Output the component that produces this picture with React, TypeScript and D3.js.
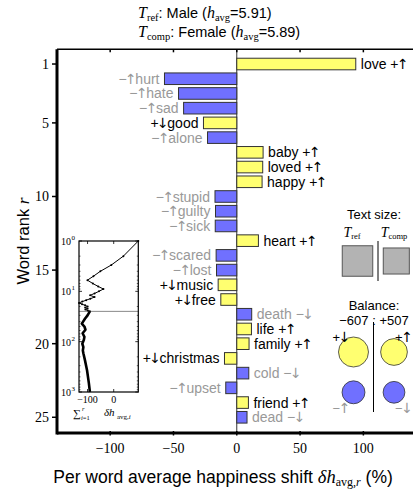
import React from "react";
import * as d3 from "d3";

const words = ["love","hurt","hate","sad","good","alone","baby","loved","happy","stupid","guilty","sick","heart","scared","lost","music","free","death","life","family","christmas","cold","upset","friend","dead"];
const shifts = [94, -57.1, -46, -42, -26.3, -23.1, 20.8, 20.5, 20, -17.2, -16.8, -17, 17.1, -16.3, -16, -14.7, -12.6, 11.8, 11.6, 9.7, -9.7, 9.5, -8.7, 9.2, 8.1];
const types = ["+↑","−↑","−↑","−↑","+↓","−↑","+↑","+↑","+↑","−↑","−↑","−↑","+↑","−↑","−↑","+↓","+↓","−↓","+↑","+↑","+↓","−↓","−↑","+↑","−↓"];

const yTicks = [1, 5, 10, 15, 20, 25];
const xTicks = [-100, -50, 0, 50, 100];

const tailRanks = [30, 35, 40, 44, 50, 58, 68, 80, 92, 110, 128, 150, 170, 233, 370, 665, 1000];
const tailCum = [-100, -110, -117, -122, -112, -108, -119, -112, -114, -120, -116, -118, -116, -110, -102, -95, -91];

const insetYTicks = [1, 10, 100, 1000];
const insetXTicks = [-100, 0];

const balanceLabels = ["+↓", "+↑", "−↑", "−↓"];
const balanceValues = [-383, 305, -224, 202];
const balanceTotals = ["−607", "+507"];
const textSizes = [1.0, 0.73];

const YELLOW = "#ffff70";
const BLUE = "#7070ff";
const GRAY = "#999999";
const SANS = "'Liberation Sans', Arial, sans-serif";
const SERIF = "'Liberation Serif', 'DejaVu Serif', serif";
const ARROW = "'DejaVu Sans', 'Liberation Sans'";

function TypeTspans({ t }: { t: string }) {
  return (
    <>
      <tspan>{t[0]}</tspan>
      <tspan fontFamily={ARROW} fontSize={14} fontWeight="normal" dx={-1.5}>{t[1]}</tspan>
    </>
  );
}

export default function App() {
  const W = 413, H = 493;
  const x = d3.scaleLinear().domain([-142, 140]).range([57, 414]);
  const y = d3.scaleLinear().domain([0, 26]).range([49.3, 432]);
  const bh = 11.6;
  const ranks = words.map((_, i) => i + 1);

  // inset
  const cum = Array.from(d3.cumsum(shifts));
  const allC = cum.concat(tailCum);
  const ix = d3.scaleLinear().domain(d3.extent(allC) as [number, number]).range([79, 138.3]);
  const iy = d3.scaleLog().domain([1, 1000]).range([241, 392]);
  const headPath = d3.line<number>().x((_, i) => ix(cum[i])).y((r) => iy(r))(ranks) || "";
  const tailFull = d3.line<[number, number]>().x((d) => ix(d[1])).y((d) => iy(d[0]))(
    [[25, cum[24]] as [number, number]].concat(tailRanks.map((r, i) => [r, tailCum[i]] as [number, number]))
  ) || "";
  const minorTicks: number[] = [];
  [1, 10, 100].forEach((b) => { for (let k = 2; k < 10; k++) minorTicks.push(b * k); });

  const rScale = (v: number) => 0.766 * Math.sqrt(Math.abs(v));

  return (
    <svg width={W} height={H} style={{ position: "absolute", left: 0, top: 0, background: "#fff" }}>
      {/* title */}
      <text x={138} y={18} fontSize={14.5} fontFamily={SANS} fill="#000">
        <tspan fontFamily={SERIF} fontStyle="italic" fontSize={16}>T</tspan>
        <tspan fontFamily={SERIF} fontSize={10.5} dy={3}>ref</tspan>
        <tspan dy={-3}>: Male (</tspan>
        <tspan fontFamily={SERIF} fontStyle="italic" fontSize={16}>h</tspan>
        <tspan fontFamily={SERIF} fontSize={10.5} dy={3}>avg</tspan>
        <tspan dy={-3}>=5.91)</tspan>
      </text>
      <text x={138} y={37} fontSize={14.5} fontFamily={SANS} fill="#000">
        <tspan fontFamily={SERIF} fontStyle="italic" fontSize={16}>T</tspan>
        <tspan fontFamily={SERIF} fontSize={10.5} dy={3}>comp</tspan>
        <tspan dy={-3}>: Female (</tspan>
        <tspan fontFamily={SERIF} fontStyle="italic" fontSize={16}>h</tspan>
        <tspan fontFamily={SERIF} fontSize={10.5} dy={3}>avg</tspan>
        <tspan dy={-3}>=5.89)</tspan>
      </text>

      {/* zero line */}
      <line x1={x(0)} x2={x(0)} y1={y(0)} y2={y(26)} stroke="#333" strokeWidth={1} />

      {/* bars */}
      {shifts.map((v, i) => {
        const r = ranks[i];
        const pos = types[i][0] === "+";
        const x0 = Math.min(x(0), x(v));
        const w = Math.abs(x(v) - x(0));
        return (
          <rect key={"b" + i} x={x0} y={y(r) - bh / 2} width={w} height={bh}
            fill={pos ? YELLOW : BLUE} stroke="#333" strokeWidth={1} />
        );
      })}
      {shifts.map((v, i) => {
        const r = ranks[i];
        const pos = types[i][0] === "+";
        const right = v > 0;
        return (
          <text key={"l" + i} x={right ? x(v) + 5 : x(v) - 5} y={y(r)} dy="0.36em"
            textAnchor={right ? "start" : "end"} fontSize={14} fontFamily={SANS}
            fill={pos ? "#000" : GRAY}>
            {right ? (<><tspan>{words[i] + " "}</tspan><TypeTspans t={types[i]} /></>)
              : (<><TypeTspans t={types[i]} /><tspan dx={-1.5}>{words[i]}</tspan></>)}
          </text>
        );
      })}

      {/* frame */}
      <line x1={57} x2={414} y1={y(0)} y2={y(0)} stroke="#000" strokeWidth={1.5} />
      <line x1={57} x2={414} y1={433} y2={433} stroke="#000" strokeWidth={3} />
      <line x1={57} x2={57} y1={y(0)} y2={434.5} stroke="#000" strokeWidth={3} />

      {/* y ticks */}
      {yTicks.map((t) => (
        <g key={"yt" + t}>
          <line x1={52} x2={57} y1={y(t)} y2={y(t)} stroke="#000" strokeWidth={1.5} />
          <text x={49} y={y(t)} dy="0.35em" textAnchor="end" fontSize={14} fontFamily={SERIF}>{t}</text>
        </g>
      ))}
      {/* x ticks */}
      {xTicks.map((t) => (
        <g key={"xt" + t}>
          <line x1={x(t)} x2={x(t)} y1={y(0)} y2={y(0) + 3} stroke="#000" strokeWidth={1.5} />
          <line x1={x(t)} x2={x(t)} y1={431} y2={435.5} stroke="#000" strokeWidth={1.5} />
          <text x={x(t)} y={453} textAnchor="middle" fontSize={14} fontFamily={SERIF}>{t < 0 ? "−" + Math.abs(t) : t}</text>
        </g>
      ))}

      {/* axis labels */}
      <text transform="translate(29,241) rotate(-90)" textAnchor="middle" fontSize={16.5} fontFamily={SANS}>
        Word rank <tspan fontFamily={SERIF} fontStyle="italic" fontSize={17.5}>r</tspan>
      </text>
      <text x={223} y={483} textAnchor="middle" fontSize={17.5} fontFamily={SANS}>
        Per word average happiness shift <tspan fontFamily={SERIF} fontStyle="italic" fontSize={18.5}>δh</tspan>
        <tspan fontFamily={SERIF} fontSize={12} dy={3}>avg,</tspan>
        <tspan fontFamily={SERIF} fontStyle="italic" fontSize={12}>r</tspan>
        <tspan dy={-3}> (%)</tspan>
      </text>

      {/* inset */}
      <rect x={79} y={241} width={59.3} height={151} fill="#fff" stroke="none" />
      <line x1={79} x2={138.3} y1={iy(25)} y2={iy(25)} stroke="#888" strokeWidth={1} />
      <path d={headPath} fill="none" stroke="#000" strokeWidth={1} />
      {ranks.map((r, i) => (
        <circle key={"ip" + i} cx={ix(cum[i])} cy={iy(r)} r={1} fill="#000" />
      ))}
      <path d={tailFull} fill="none" stroke="#000" strokeWidth={2.6} strokeLinejoin="round" />
      <rect x={79} y={241} width={59.3} height={151} fill="none" stroke="#000" strokeWidth={1.2} />
      {insetYTicks.map((t, i) => (
        <g key={"iyt" + t}>
          <line x1={79} x2={82} y1={iy(t)} y2={iy(t)} stroke="#000" strokeWidth={0.8} />
          <line x1={135.3} x2={138.3} y1={iy(t)} y2={iy(t)} stroke="#000" strokeWidth={0.8} />
          <text x={71} y={iy(t) + 4} textAnchor="end" fontSize={10} fontFamily={SERIF}>10</text>
          <text x={71.5} y={iy(t) - 1} fontSize={7} fontFamily={SERIF}>{i}</text>
        </g>
      ))}
      {minorTicks.map((t) => (
        <g key={"imt" + t}>
          <line x1={79} x2={80.5} y1={iy(t)} y2={iy(t)} stroke="#000" strokeWidth={0.6} />
          <line x1={136.8} x2={138.3} y1={iy(t)} y2={iy(t)} stroke="#000" strokeWidth={0.6} />
        </g>
      ))}
      {insetXTicks.map((t) => (
        <g key={"ixt" + t}>
          <line x1={ix(t)} x2={ix(t)} y1={392} y2={389} stroke="#000" strokeWidth={0.8} />
          <line x1={ix(t)} x2={ix(t)} y1={241} y2={244} stroke="#000" strokeWidth={0.8} />
          <text x={ix(t)} y={403} textAnchor="middle" fontSize={10} fontFamily={SERIF}>{t < 0 ? "−" + Math.abs(t) : t}</text>
        </g>
      ))}
      <g fontFamily={SERIF} fill="#000">
        <text x={73} y={417} fontSize={11}>∑</text>
        <text x={82} y={411} fontSize={6.5} fontStyle="italic">r</text>
        <text x={81} y={420} fontSize={6.5}><tspan fontStyle="italic">i</tspan>=1</text>
        <text x={104} y={416} fontSize={11} fontStyle="italic">δh</text>
        <text x={117} y={419} fontSize={7}>avg,<tspan fontStyle="italic">i</tspan></text>
      </g>

      {/* text size legend */}
      <text x={374} y={219} textAnchor="middle" fontSize={13} fontFamily={SANS}>Text size:</text>
      <text x={352} y={237} textAnchor="middle" fontSize={14} fontFamily={SERIF}>
        <tspan fontStyle="italic">T</tspan><tspan fontSize={8.5} dy={2}>ref</tspan>
      </text>
      <text x={394} y={237} textAnchor="middle" fontSize={14} fontFamily={SERIF}>
        <tspan fontStyle="italic">T</tspan><tspan fontSize={8.5} dy={2}>comp</tspan>
      </text>
      <line x1={378} x2={378} y1={241} y2={281} stroke="#000" strokeWidth={1} />
      {textSizes.map((s, i) => {
        const side = 30.5 * Math.sqrt(s);
        const cx = i === 0 ? 357.5 : 396.3;
        return <rect key={"ts" + i} x={cx - side / 2} y={261 - side / 2} width={side} height={side}
          fill="#b3b3b3" stroke="#555" strokeWidth={1} />;
      })}

      {/* balance legend */}
      <text x={374} y={310} textAnchor="middle" fontSize={13} fontFamily={SANS}>Balance:</text>
      <text x={374} y={325} textAnchor="middle" fontSize={13} fontFamily={SANS}>{balanceTotals[0]} : {balanceTotals[1]}</text>
      <line x1={373.5} x2={373.5} y1={322} y2={412} stroke="#000" strokeWidth={1} />
      {balanceValues.map((v, i) => {
        const cx = i % 2 === 0 ? 353.5 : 394;
        const cy = i < 2 ? 352 : 392.3;
        return <circle key={"bc" + i} cx={cx} cy={cy} r={rScale(v)} fill={i < 2 ? YELLOW : BLUE} stroke="#333" strokeWidth={0.8} />;
      })}
      {balanceLabels.map((l, i) => (
        <text key={"bl" + i} x={i % 2 === 0 ? 341.5 : 404} y={i < 2 ? 337 : 408} dy="0.35em"
          textAnchor="middle" fontSize={13} fontFamily={SANS} fill={i < 2 ? "#000" : GRAY}>
          <TypeTspans t={l} />
        </text>
      ))}
    </svg>
  );
}
